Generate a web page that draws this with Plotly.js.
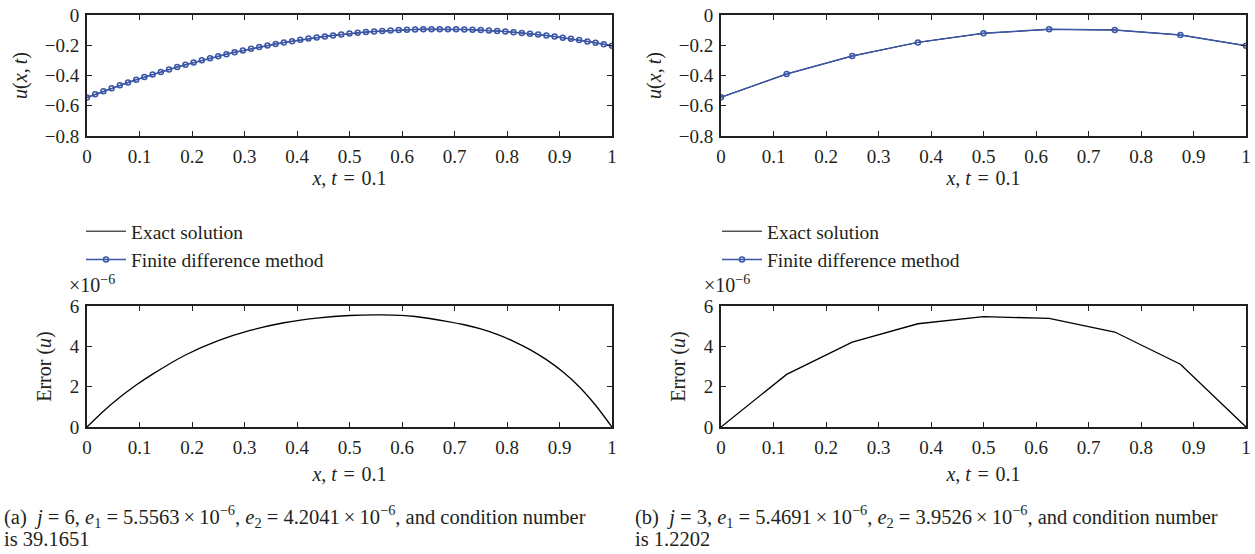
<!DOCTYPE html>
<html>
<head>
<meta charset="utf-8">
<script src="https://cdn.plot.ly/plotly-3.0.1.min.js"></script>
<style>html,body{margin:0;padding:0;background:#fff;}#chart{width:1255px;height:554px;}</style>
</head>
<body>
<div id="chart"></div>
<script>
// ---------- data ----------
// (a) j = 6 : 65 grid points, x = k/64
const xFine = [0,0.015625,0.03125,0.046875,0.0625,0.078125,0.09375,0.109375,0.125,0.140625,0.15625,0.171875,0.1875,0.203125,0.21875,0.234375,0.25,0.265625,0.28125,0.296875,0.3125,0.328125,0.34375,0.359375,0.375,0.390625,0.40625,0.421875,0.4375,0.453125,0.46875,0.484375,0.5,0.515625,0.53125,0.546875,0.5625,0.578125,0.59375,0.609375,0.625,0.640625,0.65625,0.671875,0.6875,0.703125,0.71875,0.734375,0.75,0.765625,0.78125,0.796875,0.8125,0.828125,0.84375,0.859375,0.875,0.890625,0.90625,0.921875,0.9375,0.953125,0.96875,0.984375,1];
const uFdmA = [-0.5450,-0.5243,-0.5042,-0.4844,-0.4652,-0.4465,-0.4282,-0.4104,-0.3931,-0.3763,-0.3599,-0.3441,-0.3287,-0.3138,-0.2994,-0.2854,-0.2720,-0.2590,-0.2466,-0.2346,-0.2230,-0.2120,-0.2015,-0.1914,-0.1819,-0.1728,-0.1642,-0.1561,-0.1485,-0.1414,-0.1348,-0.1286,-0.1230,-0.1178,-0.1132,-0.1090,-0.1053,-0.1021,-0.0994,-0.0972,-0.0955,-0.0943,-0.0936,-0.0934,-0.0937,-0.0944,-0.0957,-0.0975,-0.0997,-0.1025,-0.1058,-0.1095,-0.1138,-0.1185,-0.1238,-0.1296,-0.1358,-0.1426,-0.1498,-0.1576,-0.1659,-0.1747,-0.1839,-0.1937,-0.2040];
const uExactA = uFdmA;
// error of (a), in units of 1e-6
const xErrA = [0,0.03125,0.0625,0.09375,0.125,0.1875,0.25,0.3125,0.375,0.4375,0.5,0.5625,0.625,0.6875,0.71875,0.75,0.78125,0.8125,0.84375,0.875,0.90625,0.9375,0.96875,1];
const errA = [0,0.78,1.47,2.08,2.62,3.57,4.28,4.80,5.17,5.40,5.53,5.556,5.48,5.23,5.07,4.86,4.59,4.25,3.84,3.34,2.74,2.00,1.08,0];

// (b) j = 3 : 9 grid points
const xCoarse = [0,0.125,0.25,0.375,0.5,0.625,0.75,0.875,1];
const uFdmB = [-0.544,-0.390,-0.271,-0.181,-0.121,-0.095,-0.099,-0.132,-0.203];
const uExactB = uFdmB;
const errB = [0,2.61,4.21,5.12,5.469,5.39,4.71,3.11,0];

const xTickVals = [0,0.1,0.2,0.3,0.4,0.5,0.6,0.7,0.8,0.9,1];
const xTickText = ['0','0.1','0.2','0.3','0.4','0.5','0.6','0.7','0.8','0.9','1'];
const uTickVals = [0,-0.2,-0.4,-0.6,-0.8];
const uTickText = ['0','\u22120.2','\u22120.4','\u22120.6','\u22120.8'];
const eTickVals = [0,2,4,6];
const eTickText = ['0','2','4','6'];

const legendNames = ['Exact solution','Finite difference method'];
const EQ = ' \u200a=\u200a ';
const TIMES = '\u2009\u00d7\u2009';
const captionA = ['(a)\u2002<i>j</i> = 6, <i>e</i><sub>1</sub> = 5.5563' + TIMES + '10<sup>\u22126</sup>, <i>e</i><sub>2</sub> = 4.2041' + TIMES + '10<sup>\u22126</sup>, and condition number', 'is 39.1651'];
const captionB = ['(b)\u2002<i>j</i> = 3, <i>e</i><sub>1</sub> = 5.4691' + TIMES + '10<sup>\u22126</sup>, <i>e</i><sub>2</sub> = 3.9526' + TIMES + '10<sup>\u22126</sup>, and condition number', 'is 1.2202'];

// ---------- styling ----------
const FONT = 'Liberation Serif, Times New Roman, serif';
const INK = '#231f20';
const BLUE = '#3a56a8';
const W = 1255, H = 554;
const px = v => v / W;
const py = v => 1 - v / H;

const traces = [
  {x: xFine, y: uExactA, xaxis:'x', yaxis:'y', mode:'lines', name: legendNames[0], legend:'legend',
   line:{color:'#000', width:1}},
  {x: xFine, y: uFdmA, xaxis:'x', yaxis:'y', mode:'lines+markers', name: legendNames[1], legend:'legend',
   line:{color:BLUE, width:1.5}, marker:{symbol:'circle-open', size:5, color:BLUE, line:{width:1.5, color:BLUE}}},
  {x: xCoarse, y: uExactB, xaxis:'x2', yaxis:'y2', mode:'lines', name: legendNames[0], legend:'legend2',
   line:{color:'#000', width:1}},
  {x: xCoarse, y: uFdmB, xaxis:'x2', yaxis:'y2', mode:'lines+markers', name: legendNames[1], legend:'legend2',
   line:{color:BLUE, width:1.5}, marker:{symbol:'circle-open', size:5, color:BLUE, line:{width:1.5, color:BLUE}}},
  {x: xErrA, y: errA, xaxis:'x3', yaxis:'y3', mode:'lines', showlegend:false,
   line:{color:'#000', width:1.3, shape:'spline', smoothing:0.6}},
  {x: xCoarse, y: errB, xaxis:'x4', yaxis:'y4', mode:'lines', showlegend:false,
   line:{color:'#000', width:1.3}}
];

const XTITLE = '<i>x</i>, <i>t</i>' + EQ + '0.1';
function xAxis(domain, anchor, standoff) {
  return {domain, anchor, range:[0,1], tickvals:xTickVals, ticktext:xTickText,
    ticks:'inside', ticklen:5, tickwidth:1, tickcolor:INK, showline:true, linewidth:2, linecolor:INK,
    mirror:'ticks', showgrid:false, zeroline:false, fixedrange:true,
    tickfont:{family:FONT, size:19, color:INK}, ticklabelstandoff:2,
    title:{text:XTITLE, font:{family:FONT, size:20, color:INK}, standoff:standoff}};
}
function yAxis(domain, anchor, vals, text, range, title, standoff) {
  return {domain, anchor, range, tickvals:vals, ticktext:text,
    ticks:'inside', ticklen:5, tickwidth:1, tickcolor:INK, showline:true, linewidth:2, linecolor:INK,
    mirror:'ticks', showgrid:false, zeroline:false, fixedrange:true,
    tickfont:{family:FONT, size:19, color:INK}, ticklabelstandoff:2,
    title:{text:title, font:{family:FONT, size:20, color:INK}, standoff:standoff}};
}

const dxL = [px(87), px(612)], dxR = [px(721), px(1246)];
const dyT = [py(136), py(15)], dyB = [py(427), py(306)];

const legendBase = {font:{family:FONT, size:19.5, color:INK}, bgcolor:'rgba(0,0,0,0)', borderwidth:0,
  xanchor:'left', yanchor:'top', tracegroupgap:0, itemwidth:40};

const annotations = [
  {text:'\u00d710<sup>\u22126</sup>', x:px(67), y:py(298), xref:'paper', yref:'paper', xanchor:'left', yanchor:'bottom',
   showarrow:false, font:{family:FONT, size:20, color:INK}},
  {text:'\u00d710<sup>\u22126</sup>', x:px(702), y:py(298), xref:'paper', yref:'paper', xanchor:'left', yanchor:'bottom',
   showarrow:false, font:{family:FONT, size:20, color:INK}},
  {text:captionA[0], x:px(2), y:py(516), xref:'paper', yref:'paper', xanchor:'left', yanchor:'middle', showarrow:false,
   font:{family:FONT, size:20.5, color:INK}},
  {text:captionA[1], x:px(2), y:py(539), xref:'paper', yref:'paper', xanchor:'left', yanchor:'middle', showarrow:false,
   font:{family:FONT, size:20.5, color:INK}},
  {text:captionB[0], x:px(633), y:py(516), xref:'paper', yref:'paper', xanchor:'left', yanchor:'middle', showarrow:false,
   font:{family:FONT, size:20.5, color:INK}},
  {text:captionB[1], x:px(633), y:py(539), xref:'paper', yref:'paper', xanchor:'left', yanchor:'middle', showarrow:false,
   font:{family:FONT, size:20.5, color:INK}}
];

const layout = {
  width:W, height:H, margin:{l:0, r:0, t:0, b:0, pad:0},
  paper_bgcolor:'#fff', plot_bgcolor:'#fff', showlegend:true,
  font:{family:FONT, color:INK},
  xaxis: xAxis(dxL, 'y', 4),
  yaxis: yAxis(dyT, 'x', uTickVals, uTickText, [-0.8, 0], '<i>u</i>(<i>x</i>,\u2009<i>t</i>)', 12),
  xaxis2: xAxis(dxR, 'y2', 4),
  yaxis2: yAxis(dyT, 'x2', uTickVals, uTickText, [-0.8, 0], '<i>u</i>(<i>x</i>,\u2009<i>t</i>)', 12),
  xaxis3: xAxis(dxL, 'y3', 10),
  yaxis3: yAxis(dyB, 'x3', eTickVals, eTickText, [0, 6], 'Error (<i>u</i>)', 13),
  xaxis4: xAxis(dxR, 'y4', 10),
  yaxis4: yAxis(dyB, 'x4', eTickVals, eTickText, [0, 6], 'Error (<i>u</i>)', 13),
  legend: Object.assign({}, legendBase, {x:px(81), y:py(212)}),
  legend2: Object.assign({}, legendBase, {x:px(717), y:py(212)}),
  annotations
};

Plotly.newPlot('chart', traces, layout, {displayModeBar:false, staticPlot:true});
</script>
</body>
</html>
